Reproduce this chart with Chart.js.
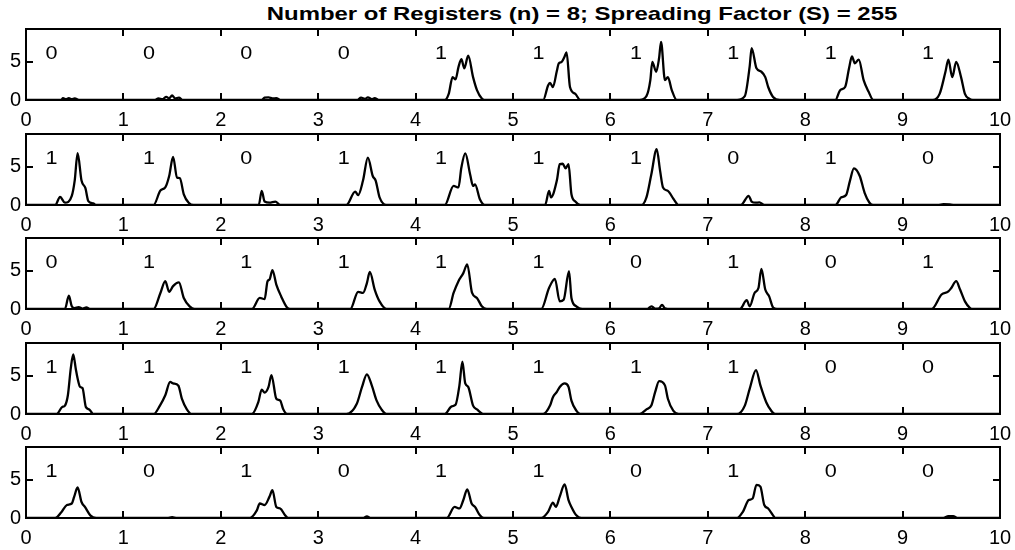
<!DOCTYPE html>
<html>
<head>
<meta charset="utf-8">
<script src="https://cdn.jsdelivr.net/npm/chart.js@4.4.1/dist/chart.umd.min.js"></script>
<style>
  html, body { margin: 0; padding: 0; background: #fff; }
  #wrap { position: relative; width: 1015px; height: 550px; overflow: hidden; }
  #title {
    position: absolute; left: 582px; top: 3px; transform: translateX(-50%) scaleX(1.26);
    white-space: nowrap; font: bold 19px "Liberation Sans", Arial, Helvetica, sans-serif; color: #000;
  }
  canvas { position: absolute; left: 0; }
</style>
</head>
<body>
<div id="wrap">
  <div id="title">Number of Registers (n) = 8; Spreading Factor (S) = 255</div>
</div>
<script>
/* ================= DATA ================= */
const xTicks = [0, 1, 2, 3, 4, 5, 6, 7, 8, 9, 10];
const yTicks = [0, 5];

const bits1 = [0, 0, 0, 0, 1, 1, 1, 1, 1, 1];
const bits2 = [1, 1, 0, 1, 1, 1, 1, 0, 1, 0];
const bits3 = [0, 1, 1, 1, 1, 1, 0, 1, 0, 1];
const bits4 = [1, 1, 1, 1, 1, 1, 1, 1, 0, 0];
const bits5 = [1, 0, 1, 0, 1, 1, 0, 1, 0, 0];

// [time, amplitude]
const trace1 = [
  [0, 0], [0.36, 0], [0.38, 0.25], [0.41, 0.1], [0.44, 0.25], [0.47, 0.1], [0.5, 0.2], [0.55, 0],
  [1.32, 0], [1.36, 0.2], [1.4, 0.1], [1.44, 0.4], [1.47, 0.2], [1.5, 0.6], [1.53, 0.2], [1.57, 0.3], [1.61, 0],
  [2.42, 0], [2.45, 0.3], [2.49, 0.35], [2.53, 0.2], [2.57, 0.25], [2.61, 0],
  [3.4, 0], [3.44, 0.3], [3.48, 0.15], [3.51, 0.35], [3.55, 0.1], [3.58, 0.25], [3.62, 0],
  [4.3, 0], [4.34, 0.8], [4.38, 3.0], [4.41, 2.7], [4.44, 4.3], [4.47, 5.35], [4.5, 4.15], [4.54, 5.8],
  [4.59, 3.0], [4.63, 1.3], [4.68, 0.2], [4.72, 0],
  [5.31, 0], [5.36, 1.9], [5.38, 2.25], [5.41, 1.7], [5.45, 3.8], [5.47, 4.8], [5.5, 5.0], [5.53, 5.7],
  [5.55, 6.25], [5.585, 1.7], [5.64, 0.8], [5.69, 0],
  [6.3, 0], [6.37, 0.5], [6.41, 2.6], [6.43, 5.0], [6.47, 3.7], [6.5, 5.5], [6.52, 7.6], [6.56, 2.6],
  [6.59, 3.0], [6.63, 1.3], [6.68, 0],
  [7.3, 0], [7.38, 0.5], [7.43, 4.4], [7.45, 6.8], [7.5, 4.15], [7.55, 3.7], [7.59, 3.0], [7.62, 1.7],
  [7.67, 0.4], [7.74, 0],
  [8.31, 0], [8.36, 1.3], [8.41, 1.7], [8.45, 4.15], [8.48, 5.7], [8.51, 4.8], [8.55, 5.3], [8.6, 2.6],
  [8.65, 1.1], [8.7, 0],
  [9.31, 0], [9.38, 0.8], [9.44, 3.7], [9.47, 5.3], [9.51, 3.0], [9.55, 5.0], [9.6, 3.0], [9.64, 0.8],
  [9.68, 0.2], [9.72, 0], [10, 0]
];
const trace2 = [
  [0, 0], [0.3, 0], [0.35, 1.05], [0.4, 0.3], [0.47, 1.2], [0.5, 3.2], [0.53, 6.8], [0.57, 3.2],
  [0.61, 2.2], [0.64, 0.5], [0.69, 0.2], [0.72, 0],
  [1.31, 0], [1.38, 1.9], [1.43, 2.3], [1.47, 3.8], [1.51, 6.3], [1.55, 3.6], [1.58, 3.5], [1.62, 1.4],
  [1.67, 0.3], [1.72, 0],
  [2.39, 0], [2.42, 1.85], [2.45, 0.45], [2.5, 0.3], [2.56, 0.45], [2.61, 0],
  [3.29, 0], [3.38, 1.75], [3.41, 1.3], [3.46, 3.2], [3.51, 6.2], [3.56, 3.8], [3.59, 3.2], [3.63, 1.0], [3.7, 0],
  [4.3, 0], [4.39, 2.5], [4.44, 2.3], [4.47, 4.9], [4.51, 6.75], [4.56, 4.0], [4.59, 2.5], [4.61, 2.7],
  [4.66, 0.75], [4.71, 0],
  [5.33, 0], [5.37, 1.85], [5.39, 1.0], [5.45, 3.2], [5.48, 5.35], [5.51, 5.4], [5.54, 4.8], [5.57, 5.35],
  [5.6, 1.4], [5.64, 0.45], [5.69, 0],
  [6.32, 0], [6.37, 1.0], [6.42, 4.0], [6.475, 7.3], [6.51, 4.5], [6.54, 2.3], [6.59, 1.85], [6.65, 0.75], [6.7, 0],
  [7.34, 0], [7.42, 1.2], [7.45, 0.45], [7.49, 0.3], [7.53, 0.35], [7.58, 0],
  [8.31, 0], [8.37, 1.0], [8.42, 1.3], [8.46, 3.2], [8.5, 4.8], [8.56, 3.8], [8.61, 1.6], [8.66, 0.3], [8.7, 0],
  [9.36, 0], [9.42, 0.1], [9.5, 0.05], [9.55, 0], [10, 0]
];
const trace3 = [
  [0, 0], [0.4, 0], [0.44, 1.75], [0.47, 0.35], [0.5, 0.1], [0.54, 0.25], [0.58, 0.05], [0.62, 0.2], [0.66, 0],
  [1.31, 0], [1.38, 2.1], [1.43, 3.65], [1.47, 2.25], [1.51, 3.0], [1.57, 3.5], [1.62, 1.45], [1.68, 0.35], [1.73, 0],
  [2.32, 0], [2.4, 1.45], [2.45, 1.3], [2.48, 3.65], [2.5, 3.85], [2.53, 5.1], [2.57, 3.2], [2.62, 1.65],
  [2.68, 0.2], [2.71, 0],
  [3.33, 0], [3.41, 2.25], [3.46, 2.1], [3.5, 3.4], [3.53, 4.85], [3.58, 2.55], [3.63, 1.0], [3.7, 0],
  [4.34, 0], [4.39, 2.1], [4.44, 3.65], [4.49, 4.7], [4.53, 5.85], [4.58, 2.1], [4.63, 1.45], [4.68, 0.35], [4.73, 0],
  [5.29, 0], [5.37, 2.75], [5.43, 3.95], [5.48, 1.0], [5.52, 1.2], [5.575, 4.95], [5.6, 1.45], [5.65, 0.35], [5.71, 0],
  [6.38, 0], [6.42, 0.35], [6.46, 0.05], [6.5, 0.1], [6.53, 0.55], [6.56, 0.1], [6.62, 0],
  [7.33, 0], [7.4, 1.15], [7.43, 0.35], [7.48, 2.1], [7.52, 2.75], [7.55, 5.25], [7.59, 2.55], [7.63, 1.65],
  [7.67, 0.2], [7.71, 0],
  [9.3, 0], [9.4, 1.9], [9.47, 2.3], [9.5, 2.75], [9.55, 3.65], [9.59, 2.55], [9.64, 1.0], [9.69, 0.15],
  [9.72, 0], [10, 0]
];
const trace4 = [
  [0, 0], [0.315, 0], [0.37, 0.9], [0.4, 1.1], [0.43, 2.45], [0.46, 6.0], [0.485, 7.8], [0.51, 6.0],
  [0.53, 4.65], [0.555, 3.55], [0.58, 3.4], [0.615, 0.9], [0.65, 0.6], [0.69, 0],
  [1.31, 0], [1.375, 1.1], [1.43, 2.45], [1.48, 4.2], [1.51, 4.0], [1.565, 3.7], [1.6, 2.0], [1.65, 0.65], [1.7, 0],
  [2.32, 0], [2.385, 1.55], [2.42, 3.2], [2.45, 2.8], [2.49, 3.55], [2.52, 5.1], [2.57, 2.0], [2.61, 1.75],
  [2.64, 0.65], [2.68, 0],
  [3.29, 0], [3.395, 1.3], [3.45, 3.55], [3.5, 5.2], [3.55, 3.75], [3.6, 1.75], [3.65, 0.6], [3.7, 0],
  [4.3, 0], [4.37, 1.0], [4.41, 1.2], [4.45, 3.75], [4.48, 6.85], [4.51, 4.0], [4.54, 3.55], [4.59, 1.1],
  [4.63, 0.6], [4.7, 0],
  [5.31, 0], [5.38, 1.1], [5.41, 2.2], [5.45, 2.9], [5.48, 3.55], [5.53, 4.0], [5.57, 3.55], [5.6, 1.75],
  [5.65, 0.45], [5.69, 0],
  [6.3, 0], [6.37, 0.6], [6.42, 1.1], [6.46, 2.9], [6.5, 4.3], [6.56, 3.75], [6.59, 2.0], [6.645, 0.45], [6.7, 0],
  [7.3, 0], [7.38, 1.1], [7.43, 3.3], [7.495, 5.75], [7.54, 3.75], [7.6, 1.55], [7.65, 0.45], [7.69, 0], [10, 0]
];
const trace5 = [
  [0, 0], [0.3, 0], [0.365, 0.8], [0.42, 1.7], [0.47, 1.9], [0.495, 2.8], [0.53, 4.0], [0.57, 2.1],
  [0.605, 1.45], [0.66, 0.35], [0.72, 0],
  [1.45, 0], [1.5, 0.1], [1.55, 0],
  [2.3, 0], [2.37, 1.0], [2.4, 1.9], [2.45, 1.7], [2.5, 2.8], [2.53, 3.65], [2.57, 1.45], [2.61, 1.25],
  [2.66, 0.35], [2.69, 0],
  [3.46, 0], [3.5, 0.2], [3.54, 0],
  [4.32, 0], [4.4, 1.45], [4.45, 1.25], [4.49, 2.35], [4.53, 3.75], [4.575, 1.9], [4.61, 1.45], [4.66, 0.35], [4.7, 0],
  [5.29, 0], [5.36, 0.8], [5.41, 2.0], [5.44, 1.45], [5.48, 2.8], [5.53, 4.4], [5.57, 2.35], [5.6, 1.45],
  [5.65, 0.35], [5.7, 0],
  [7.3, 0], [7.36, 0.8], [7.42, 2.35], [7.46, 2.55], [7.5, 4.35], [7.54, 4.1], [7.58, 1.7], [7.62, 1.25],
  [7.67, 0.35], [7.69, 0],
  [9.42, 0], [9.47, 0.25], [9.52, 0.25], [9.56, 0], [10, 0]
];

/* ================= LAYOUT ================= */
const FONT = '"Liberation Sans", Arial, Helvetica, sans-serif';
const PANEL_TOP = 29;
const PANEL_STEP = 104.5;
const PAD_TOP = 5;
const CANVAS_W = 1015;
const CANVAS_H = 106;
const TICK = 7;
const Y_MAX = 9.3;
const BIT_DX = 0.2;   // bit label offset inside each interval
const BIT_Y = 6;
const TEXT_STRETCH = 1.2;

const rows = [
  { bits: bits1, trace: trace1 },
  { bits: bits2, trace: trace2 },
  { bits: bits3, trace: trace3 },
  { bits: bits4, trace: trace4 },
  { bits: bits5, trace: trace5 }
];

// box, inward ticks and the bit labels (MATLAB-like frame)
const framePlugin = {
  id: 'frame',
  afterDatasetsDraw(chart, args, opts) {
    const { ctx, chartArea: a, scales: { x, y } } = chart;
    ctx.save();
    ctx.strokeStyle = '#000';
    ctx.lineWidth = 2;
    ctx.strokeRect(a.left, a.top, a.right - a.left, a.bottom - a.top);

    ctx.beginPath();
    xTicks.forEach(v => {
      const px = Math.round(x.getPixelForValue(v));
      ctx.moveTo(px, a.bottom); ctx.lineTo(px, a.bottom - TICK);
      ctx.moveTo(px, a.top); ctx.lineTo(px, a.top + TICK);
    });
    yTicks.forEach(v => {
      const py = Math.round(y.getPixelForValue(v));
      ctx.moveTo(a.left, py); ctx.lineTo(a.left + TICK, py);
      ctx.moveTo(a.right, py); ctx.lineTo(a.right - TICK, py);
    });
    ctx.stroke();

    ctx.fillStyle = '#000';
    ctx.font = `18px ${FONT}`;
    ctx.textAlign = 'left';
    ctx.textBaseline = 'middle';
    opts.bits.forEach((b, i) => {
      ctx.save();
      ctx.translate(x.getPixelForValue(i + BIT_DX), y.getPixelForValue(BIT_Y));
      ctx.scale(TEXT_STRETCH, 1);
      ctx.fillText(String(b), 0, 0);
      ctx.restore();
    });
    ctx.restore();
  }
};

function zeroPadding(s) {
  s.paddingTop = 0;
  s.paddingBottom = 0;
  s.paddingLeft = 0;
  s.paddingRight = 0;
}

function makePanel(row, idx) {
  const canvas = document.createElement('canvas');
  canvas.width = CANVAS_W;
  canvas.height = CANVAS_H;
  canvas.style.top = Math.round(PANEL_TOP + PANEL_STEP * idx - PAD_TOP) + 'px';
  document.getElementById('wrap').appendChild(canvas);

  new Chart(canvas, {
    type: 'line',
    data: {
      datasets: [{
        data: row.trace.map(([t, v]) => ({ x: t, y: v })),
        borderColor: '#000',
        borderWidth: 2.3,
        pointRadius: 0,
        cubicInterpolationMode: 'monotone',
        fill: false
      }]
    },
    options: {
      responsive: false,
      animation: false,
      devicePixelRatio: 1,
      layout: { padding: { top: PAD_TOP, right: 15, left: 0, bottom: 0 } },
      plugins: {
        legend: { display: false },
        tooltip: { enabled: false },
        frame: { bits: row.bits }
      },
      scales: {
        x: {
          type: 'linear', min: 0, max: 10,
          grid: { display: false, drawTicks: false },
          border: { display: false },
          afterBuildTicks: s => { s.ticks = xTicks.map(v => ({ value: v })); },
          afterFit: s => { s.height = 30; zeroPadding(s); },
          ticks: { color: '#000', font: { family: FONT, size: 20 }, padding: 8, maxRotation: 0, autoSkip: false }
        },
        y: {
          type: 'linear', min: 0, max: Y_MAX,
          grid: { display: false, drawTicks: false },
          border: { display: false },
          afterBuildTicks: s => { s.ticks = yTicks.map(v => ({ value: v })); },
          afterFit: s => { s.width = 26; zeroPadding(s); },
          ticks: { color: '#000', font: { family: FONT, size: 20 }, padding: 5 }
        }
      }
    },
    plugins: [framePlugin]
  });
}

/* ================= INIT ================= */
rows.forEach(makePanel);
</script>
</body>
</html>
